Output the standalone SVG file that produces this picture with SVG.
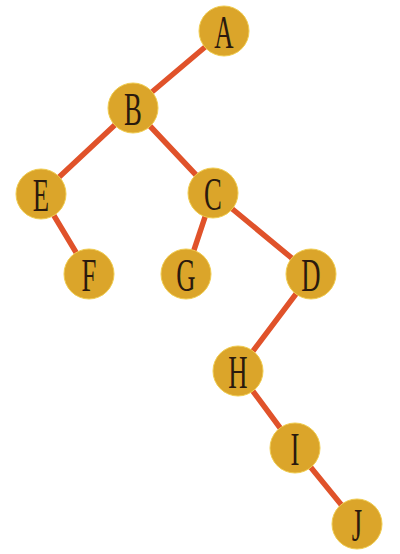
<svg xmlns="http://www.w3.org/2000/svg" width="400" height="554" viewBox="0 0 400 554">
<style>
.edge{stroke:#E0522A;stroke-width:5.5;stroke-linecap:round;fill:none}
.node circle{fill:#DBA52A;stroke:#F0CC50;stroke-width:1}
.node text{font-family:"Liberation Serif","DejaVu Serif",serif;font-size:46px;fill:#2A1A0E;text-anchor:middle}
</style>
<rect width="400" height="554" fill="#FFFFFF"/>
<g id="connectors">
<line class="edge" x1="224" y1="31" x2="133" y2="108"/>
<line class="edge" x1="133" y1="108" x2="41" y2="194"/>
<line class="edge" x1="133" y1="108" x2="213" y2="193"/>
<line class="edge" x1="41" y1="194" x2="89" y2="274"/>
<line class="edge" x1="213" y1="193" x2="186" y2="274"/>
<line class="edge" x1="213" y1="193" x2="311" y2="274"/>
<line class="edge" x1="311" y1="274" x2="238" y2="371"/>
<line class="edge" x1="238" y1="371" x2="295" y2="448"/>
<line class="edge" x1="295" y1="448" x2="357" y2="524"/>
</g>
<g id="A" class="node"><circle cx="224" cy="31" r="25"/><text transform="translate(224,48) scale(0.58,1)">A</text></g>
<g id="B" class="node"><circle cx="133" cy="108" r="25"/><text transform="translate(133,125) scale(0.58,1)">B</text></g>
<g id="E" class="node"><circle cx="41" cy="194" r="25"/><text transform="translate(41,211) scale(0.58,1)">E</text></g>
<g id="C" class="node"><circle cx="213" cy="193" r="25"/><text transform="translate(213,210) scale(0.58,1)">C</text></g>
<g id="F" class="node"><circle cx="89" cy="274" r="25"/><text transform="translate(89,291) scale(0.58,1)">F</text></g>
<g id="G" class="node"><circle cx="186" cy="274" r="25"/><text transform="translate(186,291) scale(0.58,1)">G</text></g>
<g id="D" class="node"><circle cx="311" cy="274" r="25"/><text transform="translate(311,291) scale(0.58,1)">D</text></g>
<g id="H" class="node"><circle cx="238" cy="371" r="25"/><text transform="translate(238,388) scale(0.58,1)">H</text></g>
<g id="I" class="node"><circle cx="295" cy="448" r="25"/><text transform="translate(295,465) scale(0.58,1)">I</text></g>
<g id="J" class="node"><circle cx="357" cy="524" r="25"/><text transform="translate(357,541) scale(0.58,1)">J</text></g>
</svg>
